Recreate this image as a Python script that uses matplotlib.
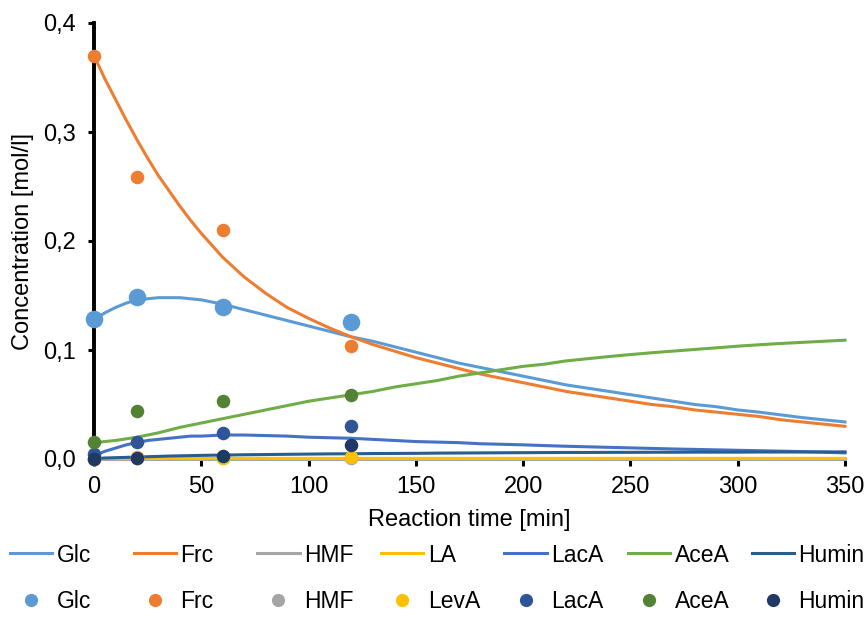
import matplotlib.pyplot as plt
from matplotlib.lines import Line2D
from matplotlib.ticker import FuncFormatter

plt.rcParams['font.family'] = ['Liberation Sans', 'DejaVu Sans']

# model curves (5 min steps first hour, then 10 min)
t_model = [0, 5, 10, 15, 20, 25, 30, 35, 40, 45, 50, 55, 60, 70, 80, 90, 100, 110, 120, 130, 140,
           150, 160, 170, 180, 190, 200, 210, 220, 230, 240, 250, 260, 270, 280, 290, 300, 310,
           320, 330, 340, 350]
glc_model = [0.128, 0.134, 0.139, 0.143, 0.146, 0.147, 0.148, 0.148, 0.148, 0.147, 0.146, 0.144,
             0.142, 0.137, 0.132, 0.127, 0.122, 0.117, 0.112, 0.108, 0.103, 0.098, 0.093, 0.088,
             0.084, 0.080, 0.076, 0.072, 0.068, 0.065, 0.062, 0.059, 0.056, 0.053, 0.050, 0.048,
             0.045, 0.043, 0.0405, 0.038, 0.036, 0.034]
frc_model = [0.370, 0.349, 0.330, 0.311, 0.293, 0.276, 0.260, 0.246, 0.232, 0.219, 0.207, 0.196,
             0.185, 0.167, 0.152, 0.139, 0.129, 0.120, 0.112, 0.105, 0.099, 0.093, 0.088, 0.083,
             0.078, 0.074, 0.070, 0.066, 0.062, 0.059, 0.056, 0.053, 0.050, 0.048, 0.045, 0.043,
             0.041, 0.039, 0.036, 0.034, 0.032, 0.030]
hmf_model = [0.0002] * 42
la_model = [0.0003, 0.0004, 0.0004, 0.0005, 0.0005, 0.0005, 0.0005, 0.0006, 0.0006, 0.0006, 0.0006,
            0.0006, 0.0006, 0.0006, 0.0006, 0.0006, 0.0006, 0.0006, 0.0006, 0.0006, 0.0006, 0.0006,
            0.0006, 0.0006, 0.0006, 0.0006, 0.0006, 0.0006, 0.0006, 0.0006, 0.0006, 0.0006, 0.0006,
            0.0006, 0.0006, 0.0006, 0.0006, 0.0006, 0.0006, 0.0006, 0.0006, 0.0006]
laca_model = [0.003, 0.007, 0.010, 0.013, 0.015, 0.017, 0.018, 0.019, 0.020, 0.021, 0.021, 0.0215,
              0.022, 0.022, 0.0215, 0.021, 0.020, 0.0195, 0.019, 0.018, 0.017, 0.016, 0.0155, 0.015,
              0.014, 0.0135, 0.013, 0.0123, 0.0117, 0.0112, 0.0107, 0.0102, 0.0097, 0.0092, 0.0088,
              0.0084, 0.008, 0.0076, 0.0072, 0.0068, 0.0062, 0.0056]
acea_model = [0.015, 0.016, 0.017, 0.0185, 0.020, 0.022, 0.024, 0.0265, 0.029, 0.031, 0.033, 0.035,
              0.037, 0.041, 0.045, 0.049, 0.053, 0.056, 0.059, 0.062, 0.066, 0.069, 0.072, 0.076,
              0.079, 0.082, 0.085, 0.087, 0.090, 0.092, 0.094, 0.0958, 0.0975, 0.099, 0.1005, 0.102,
              0.1035, 0.1048, 0.106, 0.107, 0.108, 0.109]
humin_model = [0.0005, 0.0009, 0.0012, 0.0015, 0.0018, 0.0021, 0.0024, 0.0027, 0.0029, 0.0031, 0.0033,
               0.0035, 0.0036, 0.0039, 0.0041, 0.0043, 0.0045, 0.0047, 0.0048, 0.0050, 0.0051, 0.0052,
               0.0054, 0.0055, 0.0056, 0.0057, 0.0058, 0.0059, 0.0060, 0.0060, 0.0061, 0.0061, 0.0062,
               0.0062, 0.0063, 0.0063, 0.0063, 0.0064, 0.0064, 0.0064, 0.0065, 0.0065]

# measured points
t_exp = [0, 20, 60, 120]
glc_exp = [0.128, 0.149, 0.139, 0.126]
frc_exp = [0.370, 0.259, 0.210, 0.104]
hmf_exp = [0.0, 0.001, 0.001, 0.001]
leva_exp = [0.0, 0.002, 0.001, 0.002]
laca_exp = [0.0046, 0.0153, 0.0236, 0.0306]
acea_exp = [0.016, 0.0444, 0.0533, 0.0586]
humin_exp = [0.0, 0.0006, 0.003, 0.0129]

line_names = ['Glc', 'Frc', 'HMF', 'LA', 'LacA', 'AceA', 'Humin']
dot_names = ['Glc', 'Frc', 'HMF', 'LevA', 'LacA', 'AceA', 'Humin']
line_colors = ['#5B9BD5', '#ED7D31', '#A5A5A5', '#FFC000', '#4472C4', '#70AD47', '#255E91']
dot_colors = ['#5B9BD5', '#ED7D31', '#A5A5A5', '#FFC000', '#2F5597', '#548235', '#1F3864']

models = [glc_model, frc_model, hmf_model, la_model, laca_model, acea_model, humin_model]
exps = [glc_exp, frc_exp, hmf_exp, leva_exp, laca_exp, acea_exp, humin_exp]

W, H = 868, 617
fs = 17
fig = plt.figure(figsize=(W / 100, H / 100), dpi=100)
ax = fig.add_axes([94 / W, 1 - 459 / H, (845 - 94) / W, (459 - 23) / H])

for y, c in zip(models, line_colors):
    ax.plot(t_model, y, color=c, lw=2.2, zorder=3, clip_on=False, solid_joinstyle='round')

for i, (y, c) in enumerate(zip(exps, dot_colors)):
    s = 160 if i == 0 else 95
    ax.scatter(t_exp, y, s=s, color=c, zorder=5, clip_on=False, linewidths=0)

ax.set_xlim(0, 350)
ax.set_ylim(0, 0.4)
ax.set_xticks(range(0, 351, 50))
ax.set_yticks([0, 0.1, 0.2, 0.3, 0.4])
ax.yaxis.set_major_formatter(FuncFormatter(lambda v, p: f'{v:.1f}'.replace('.', ',')))

for side in ['top', 'right']:
    ax.spines[side].set_visible(False)
ax.spines['left'].set_linewidth(2.8)
ax.spines['bottom'].set_linewidth(1.5)
ax.tick_params(axis='y', direction='out', length=4, width=2.2, labelsize=fs, pad=9)
ax.tick_params(axis='x', direction='out', length=5, width=2.2, labelsize=fs, pad=7)

fig.text(23 / W, 1 - 241 / H, 'Concentration [mol/l]', rotation=90, ha='center', va='center', fontsize=fs)
fig.text(469.5 / W, 1 - 520 / H, 'Reaction time [min]', ha='center', va='center', fontsize=fs)

# legend: two rows, equally spaced like the original
lfs = 16.5
for i in range(7):
    x0 = (10 + 123.6 * i) / W
    h1 = Line2D([], [], color=line_colors[i], lw=2.2)
    fig.legend(handles=[h1], labels=[line_names[i]], loc='center left',
               bbox_to_anchor=(x0, 1 - 555 / H), frameon=False, borderpad=0,
               borderaxespad=0, handlelength=1.85, handletextpad=0.2, fontsize=lfs)
    h2 = Line2D([], [], ls='none', marker='o', ms=9.5, markeredgewidth=0, color=dot_colors[i])
    fig.legend(handles=[h2], labels=[dot_names[i]], loc='center left',
               bbox_to_anchor=(x0, 1 - 602 / H), frameon=False, borderpad=0,
               borderaxespad=0, handlelength=1.85, handletextpad=0.2, fontsize=lfs, numpoints=1)

fig.savefig('out.png', dpi=100)
